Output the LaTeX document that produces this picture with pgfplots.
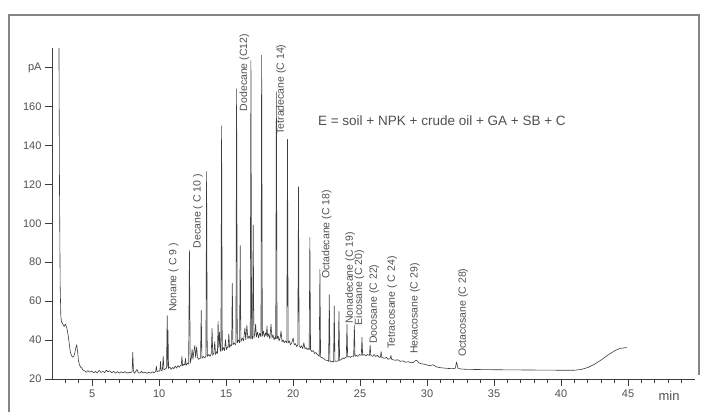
\documentclass[border=0pt]{standalone}
\usepackage{fontspec}
\setmainfont{Liberation Sans}
\usepackage{pgfplots}
\pgfplotsset{compat=1.18}
\definecolor{ink}{HTML}{3C3C3C}
\definecolor{txt}{HTML}{505050}
\definecolor{frame}{HTML}{858585}
\tikzset{lbl/.style={rotate=90, anchor=west, text=txt, font=\fontsize{10.5}{12}\selectfont, inner sep=1pt}}

\begin{document}
\begin{tikzpicture}
% page = 702 x 412, axis rectangle starts at (0,0)
\path[use as bounding box] (-52pt,-33pt) rectangle (650pt,379pt);
\draw[frame, line width=1.2pt] (-43pt,-33pt) -- (-43pt,364pt) -- (647pt,364pt) -- (647pt,4pt);
\begin{axis}[
  at={(0,0)}, anchor=south west,
  scale only axis,
  width=643pt, height=331pt,
  xmin=2, xmax=50, ymin=20, ymax=190,
  axis x line=bottom, axis y line=left,
  axis line style={-, ink, line width=0.9pt},
  xtick={5,10,...,45},
  minor xtick={3,4,6,7,8,9,11,12,13,14,16,17,18,19,21,22,23,24,26,27,28,29,31,32,33,34,36,37,38,39,41,42,43,44,46,47,48,49},
  ytick={20,40,...,180},
  yticklabels={20,40,60,80,100,120,140,160,pA},
  tick align=outside,
  major tick length=7pt, minor tick length=4.5pt,
  tick style={ink, line width=0.8pt},
  ticklabel style={font=\fontsize{11}{13}\selectfont, text=txt},
  /pgf/number format/assume math mode=true,
  clip=false,
]
\addplot[ink, line width=0.6pt, line join=round, mark=none] coordinates {
(2.52,190) (2.56,118) (2.61,68) (2.66,52) (2.72,49.2) (2.80,48.4) (2.90,47.0) (3.00,48.2) (3.10,46.4) (3.20,42.8) (3.30,37.5) (3.38,33.5) (3.46,32.0) (3.54,31.2) (3.62,31.6) (3.70,33.2) (3.78,36.2) (3.85,37.6) (3.92,33.4) (3.98,29.2) (4.05,27.3) (4.13,26.2) (4.22,25.6) (4.32,24.5) (4.42,24.3)
(4.55,23.4) (4.68,24.3) (4.82,23.5) (4.96,24.1) (5.10,23.2) (5.24,23.9) (5.38,23.1) (5.52,24.4) (5.66,23.4) (5.80,23.9) (5.94,23.3) (6.06,24.6) (6.18,23.6) (6.32,24.2) (6.46,23.2) (6.60,23.9) (6.74,23.0) (6.88,23.8) (7.02,23.0) (7.16,23.7) (7.30,23.1) (7.44,23.8) (7.58,23.0) (7.72,23.5) (7.86,23.2) (7.98,23.8) (8.03,33.6) (8.08,24.4) (8.14,22.9) (8.24,23.7) (8.34,24.9) (8.44,23.3) (8.56,23.0) (8.68,23.9) (8.80,23.1) (8.94,23.5) (9.08,22.9) (9.22,23.5) (9.36,23.0) (9.50,23.7) (9.64,23.2) (9.74,24.0) (9.79,26.6) (9.84,23.7) (9.96,24.2) (10.05,24.0) (10.10,29.0) (10.15,24.3) (10.24,24.6) (10.30,31.6) (10.36,24.7) (10.46,25.2) (10.55,25.6) (10.60,52.5) (10.63,26.5) (10.66,45.0) (10.70,25.4)
(10.80,26.1) (10.90,25.0) (11.00,25.9) (11.10,25.3) (11.20,26.6) (11.30,25.6) (11.40,26.9) (11.50,26.0) (11.60,27.1) (11.65,27.0) (11.70,31.6) (11.75,26.6) (11.84,27.6) (11.91,27.2) (11.96,30.6) (12.01,27.0) (12.10,28.1) (12.20,27.6) (12.26,86) (12.32,28.1) (12.40,30.6) (12.46,35.2) (12.52,30.1) (12.60,34.6) (12.66,37.2) (12.72,31.1) (12.80,36.6) (12.86,31.1) (12.95,30.1) (13.05,30.6) (13.09,30.8) (13.14,55.2) (13.19,30.6) (13.30,31.6) (13.40,30.8) (13.49,31.6) (13.54,126.5) (13.59,31.6) (13.70,32.6) (13.80,31.6) (13.89,33.1) (13.95,46.2) (14.00,32.1) (14.09,33.6) (14.15,39.2) (14.21,32.6) (14.30,34.1) (14.35,33.1) (14.40,49.6) (14.45,36.1) (14.50,44.1) (14.56,34.6) (14.61,34.1) (14.66,150) (14.71,34.6) (14.80,36.1) (14.88,34.6) (14.95,40.2) (15.02,35.1) (15.10,36.6) (15.15,36.2) (15.20,43.2) (15.26,36.1) (15.35,37.6) (15.41,37.1) (15.46,69.2) (15.51,37.6) (15.60,38.6) (15.68,37.6) (15.73,38.1) (15.78,169) (15.83,38.6) (15.92,40.1) (16.00,38.6) (16.05,88.5) (16.10,39.1) (16.20,41.1) (16.30,39.6) (16.40,46.2) (16.46,40.1) (16.55,47.6) (16.62,40.6) (16.70,42.1) (16.80,40.6) (16.85,183.5) (16.90,41.1) (16.97,40.6) (17.02,99) (17.07,41.1) (17.14,43.1) (17.20,48.2) (17.26,41.6) (17.34,44.1) (17.42,41.1) (17.50,43.6) (17.60,41.6) (17.65,186.2) (17.70,42.1) (17.78,44.6) (17.85,41.6) (17.93,43.6) (18.00,42.1) (18.05,47.2) (18.10,41.6) (18.18,43.1) (18.26,40.6) (18.35,48.1) (18.42,41.1) (18.50,42.6) (18.58,40.1) (18.66,41.6) (18.70,40.6) (18.75,167.5) (18.80,40.6) (18.88,42.1) (18.95,39.6) (19.03,41.1) (19.10,44.6) (19.17,39.1) (19.25,40.1) (19.33,38.6) (19.42,39.6) (19.53,38.6) (19.58,143) (19.63,38.6) (19.72,39.6) (19.80,37.6) (19.90,38.6) (20.00,41.1) (20.08,37.6) (20.18,38.1) (20.26,36.6) (20.35,37.6) (20.40,118.7) (20.45,37.1) (20.55,36.1) (20.63,37.1) (20.72,35.6) (20.80,38.6) (20.88,35.6) (20.97,36.1) (21.05,35.1) (21.13,35.6) (21.20,35.1) (21.25,92.7) (21.30,35.1) (21.40,34.1) (21.50,34.6) (21.60,33.1) (21.70,33.6) (21.80,32.6) (21.90,32.1) (21.95,31.6) (22.00,76.3) (22.05,31.1) (22.15,31.1) (22.25,30.6) (22.35,30.1) (22.45,29.6) (22.55,29.6) (22.65,29.1) (22.70,63.3) (22.75,29.1) (22.85,28.8) (22.95,29.1) (23.02,28.8) (23.07,57.5) (23.12,29.1) (23.22,29.1) (23.30,29.2) (23.37,29.3) (23.42,54.8) (23.47,29.5) (23.60,30.1) (23.70,30.8) (23.80,30.5) (23.90,31.1) (23.97,31.1) (24.02,48.0) (24.07,31.2) (24.18,31.6) (24.28,31.1) (24.40,31.8) (24.52,31.6) (24.57,47.7) (24.62,31.6) (24.72,32.1) (24.85,31.6) (24.95,32.6) (25.09,32.1) (25.14,41.3) (25.19,32.1) (25.30,32.6) (25.42,31.8) (25.55,32.6) (25.70,32.1) (25.75,37.4) (25.80,32.1) (25.95,31.6) (26.05,32.6) (26.15,31.6) (26.30,32.1) (26.45,31.1) (26.52,31.3) (26.57,34.1) (26.62,31.1) (26.80,30.6) (26.95,31.1) (27.10,30.1) (27.25,30.6) (27.30,32.1) (27.35,30.1) (27.50,29.8) (27.65,29.6) (27.80,29.9) (28.00,29.1) (28.20,29.3) (28.40,28.6) (28.60,28.9) (28.80,28.3) (29.00,28.6) (29.15,29.6) (29.25,29.4) (29.40,28.2) (29.60,27.8) (29.80,27.6) (30.00,27.2) (30.20,26.8) (30.45,27.3) (30.70,26.2) (31.00,25.8) (31.30,25.6) (31.60,25.4) (31.90,25.3) (32.10,25.5) (32.20,28.7) (32.30,25.6) (32.45,25.2) (32.80,25.0) (33.50,24.9) (34.50,24.8) (36.00,24.7) (38.00,24.6) (40.00,24.5) (41.00,24.5) (41.50,24.9) (42.00,25.9) (42.50,27.6) (43.00,29.8) (43.50,32.3) (44.00,34.5) (44.40,35.7) (44.90,36.2)
};
\node[lbl] at (axis cs:11.09,53.8) {Nonane ( C 9 )};
\node[lbl] at (axis cs:12.90,86.5) {Decane ( C 10 )};
\node[lbl] at (axis cs:16.36,157) {Dodecane (C12)};
\node[lbl] at (axis cs:19.10,145) {Tetradecane (C 14)};
\node[lbl] at (axis cs:22.50,70.8) {Octadecane (C 18)};
\node[lbl] at (axis cs:24.25,47.7) {Nonadecane (C 19)};
\node[lbl] at (axis cs:24.95,47) {Eicosane (C 20)};
\node[lbl] at (axis cs:26.05,37.4) {Docosane (C 22)};
\node[lbl] at (axis cs:27.40,35) {Tetracosane ( C 24)};
\node[lbl] at (axis cs:29.10,32.3) {Hexacosane (C 29)};
\node[lbl] at (axis cs:32.70,30.8) {Octacosane (C 28)};
\node[anchor=west, text=txt, font=\fontsize{13.5}{15}\selectfont, inner sep=0pt] at (axis cs:21.85,152.5) {E = soil + NPK + crude oil + GA + SB + C};
\node[text=txt, font=\fontsize{13}{15}\selectfont, inner sep=0pt] at (axis cs:48.07,11.3) {min};
\end{axis}
\end{tikzpicture}
\end{document}
